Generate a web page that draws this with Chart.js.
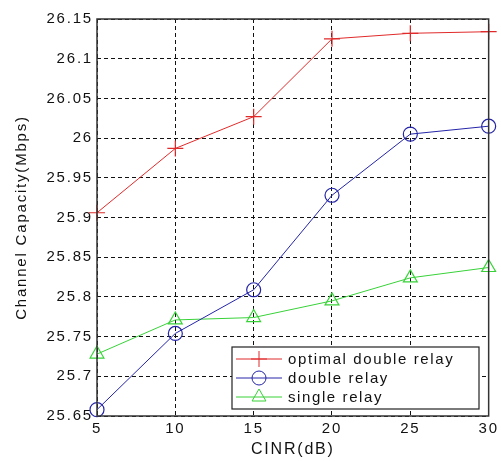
<!DOCTYPE html>
<html>
<head>
<meta charset="utf-8">
<script src="https://cdn.jsdelivr.net/npm/chart.js@4"></script>
<style>
  html, body { margin: 0; padding: 0; background: #fff; }
  #wrap { width: 501px; height: 461px; }
</style>
</head>
<body>
<div id="wrap"><canvas id="myChart" width="501" height="461"></canvas></div>
<script>
// values
var cinr = [5, 10, 15, 20, 25, 30];
var optimalDouble = [25.906, 25.987, 26.027, 26.125, 26.132, 26.134];
var doubleRelay = [25.658, 25.754, 25.809, 25.928, 26.005, 26.015];
var singleRelay = [25.728, 25.771, 25.774, 25.795, 25.824, 25.837];
var seriesNames = ['optimal double relay', 'double relay', 'single relay'];

function pts(vals) {
  return vals.map(function (v, i) { return { x: cinr[i], y: v }; });
}

var FONT = 'Arial, "Liberation Sans", sans-serif';

// frame + spacing
var framePlugin = {
  id: 'frame',
  beforeDraw: function (chart) {
    chart.ctx.letterSpacing = '1.8px';
  },
  afterDatasetsDraw: function (chart) {
    var a = chart.chartArea, ctx = chart.ctx;
    ctx.save();
    ctx.setLineDash([]);
    ctx.strokeStyle = '#333';
    ctx.lineWidth = 1.5;
    ctx.strokeRect(a.left, a.top, a.right - a.left, a.bottom - a.top);
    ctx.restore();
  }
};

// legend box drawn inside the plot, lower right
var boxLegend = {
  id: 'boxLegend',
  afterDraw: function (chart) {
    var ctx = chart.ctx;
    var x0 = 232, y0 = 347, w = 247, h = 62;
    ctx.save();
    ctx.setLineDash([]);
    ctx.fillStyle = '#fff';
    ctx.fillRect(x0, y0, w, h);
    ctx.strokeStyle = '#222';
    ctx.lineWidth = 1.2;
    ctx.strokeRect(x0, y0, w, h);
    ctx.letterSpacing = '1.6px';
    chart.data.datasets.forEach(function (ds, i) {
      var y = y0 + 12 + i * 19;
      ctx.strokeStyle = ds.borderColor;
      ctx.lineWidth = 1;
      ctx.beginPath();
      ctx.moveTo(x0 + 4, y);
      ctx.lineTo(x0 + 50, y);
      ctx.stroke();
      ctx.fillStyle = 'rgba(0,0,0,0)';
      Chart.helpers.drawPoint(ctx, {
        pointStyle: ds.pointStyle, radius: ds.pointRadius,
        borderWidth: ds.pointBorderWidth, rotation: 0
      }, x0 + 27, y);
      ctx.fillStyle = '#111';
      ctx.font = '15px ' + FONT;
      ctx.textBaseline = 'middle';
      ctx.textAlign = 'left';
      ctx.fillText(ds.label, x0 + 56, y + 1);
    });
    ctx.restore();
  }
};

function fmt(v) {
  return parseFloat(Number(v).toFixed(2)).toString();
}

new Chart(document.getElementById('myChart'), {
  type: 'line',
  data: {
    datasets: [
      {
        label: seriesNames[0], data: pts(optimalDouble),
        borderColor: '#e02a2a', backgroundColor: 'rgba(0,0,0,0)',
        borderWidth: 1, pointStyle: 'cross', pointRadius: 8,
        pointBorderWidth: 1.2, pointBorderColor: '#e02a2a'
      },
      {
        label: seriesNames[1], data: pts(doubleRelay),
        borderColor: '#2424a8', backgroundColor: 'rgba(0,0,0,0)',
        borderWidth: 1, pointStyle: 'circle', pointRadius: 7,
        pointBorderWidth: 1.2, pointBorderColor: '#2424a8'
      },
      {
        label: seriesNames[2], data: pts(singleRelay),
        borderColor: '#38d238', backgroundColor: 'rgba(0,0,0,0)',
        borderWidth: 1, pointStyle: 'triangle', pointRadius: 8,
        pointBorderWidth: 1.2, pointBorderColor: '#38d238'
      }
    ]
  },
  options: {
    responsive: false,
    animation: false,
    clip: false,
    layout: { padding: { top: 19, right: 11, left: 0, bottom: 0 } },
    plugins: { legend: { display: false }, tooltip: { enabled: false } },
    elements: { line: { tension: 0 } },
    scales: {
      x: {
        type: 'linear', min: 5, max: 30,
        afterFit: function (s) { s.height = 45; },
        ticks: {
          stepSize: 5, color: '#111', padding: 4,
          font: { family: FONT, size: 15 }, maxRotation: 0
        },
        grid: { color: '#111', lineWidth: 1, drawTicks: false },
        border: { display: false, dash: [4, 3] },
        title: {
          display: true, text: 'CINR(dB)', color: '#111',
          font: { family: FONT, size: 16 }, padding: { top: 0, bottom: 2 }
        }
      },
      y: {
        type: 'linear', min: 25.65, max: 26.15,
        afterFit: function (s) { s.width = 97; },
        ticks: {
          stepSize: 0.05, color: '#111', padding: 4,
          font: { family: FONT, size: 15 },
          callback: function (v) { return fmt(v); }
        },
        grid: { color: '#111', lineWidth: 1, drawTicks: false },
        border: { display: false, dash: [4, 3] },
        title: {
          display: true, text: 'Channel Capacity(Mbps)', color: '#111',
          font: { family: FONT, size: 15 }, padding: { top: 13, bottom: 0 }
        }
      }
    }
  },
  plugins: [framePlugin, boxLegend]
});
</script>
</body>
</html>
